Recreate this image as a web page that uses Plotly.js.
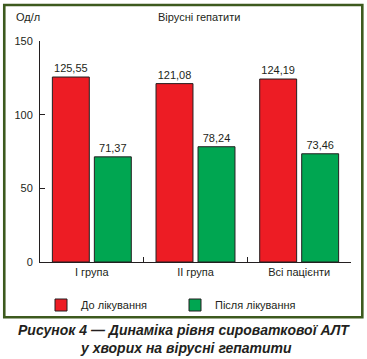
<!DOCTYPE html>
<html>
<head>
<meta charset="utf-8">
<script src="https://cdn.plot.ly/plotly-3.0.1.min.js"></script>
<style>
html,body{margin:0;padding:0;background:#fff;}
#chart{width:367px;height:359px;}
</style>
</head>
<body>
<div id="chart"></div>
<script>
const categories = ["I група", "II група", "Всі пацієнти"];
const seriesNames = ["До лікування", "Після лікування"];
const before = [125.55, 121.08, 124.19];
const after = [71.37, 78.24, 73.46];
const yTicks = [0, 50, 100, 150];
const yUnit = "Од/л";
const chartTitle = "Вірусні гепатити";
const caption1 = "Рисунок 4 — Динаміка рівня сироваткової АЛТ";
const caption2 = "у хворих на вірусні гепатити";

const fmt = v => v.toFixed(2).replace('.', ',');
const FONT = '"Liberation Sans Narrow", "Arial Narrow", "Liberation Sans", Arial, sans-serif';
const TXT = '#231f20';
const FS = 11;

const traces = [
  {type:'bar', name:seriesNames[0], x:categories, y:before, text:before.map(fmt),
   textposition:'outside', cliponaxis:false, textfont:{family:FONT,size:FS,color:TXT},
   marker:{color:'#ed1c24', line:{color:'#231f20', width:1}}},
  {type:'bar', name:seriesNames[1], x:categories, y:after, text:after.map(fmt),
   textposition:'outside', cliponaxis:false, textfont:{family:FONT,size:FS,color:TXT},
   marker:{color:'#00a651', line:{color:'#231f20', width:1}}}
];

const px = x => (x - 40) / 310.7;
const py = y => (262 - y) / 221;

const layout = {
  width:367, height:359,
  margin:{l:40, r:16, t:41, b:97},
  paper_bgcolor:'#fff', plot_bgcolor:'#fff',
  barmode:'group', bargap:0.19, bargroupgap:0.12,
  showlegend:true,
  font:{family:FONT, size:FS, color:TXT},
  xaxis:{type:'category', tickson:'boundaries', ticks:'inside', ticklen:5, tickcolor:'#231f20',
         showline:true, linecolor:'#231f20', linewidth:1, showgrid:false, zeroline:false,
         tickfont:{family:FONT,size:FS,color:TXT}, fixedrange:true},
  yaxis:{range:[0,150], tickvals:yTicks, ticks:'inside', ticklen:5, tickcolor:'#231f20',
         showline:true, linecolor:'#231f20', linewidth:1, showgrid:false, zeroline:false,
         tickfont:{family:FONT,size:FS,color:TXT}, ticklabelstandoff:4, fixedrange:true},
  legend:{orientation:'h', x:px(41), xanchor:'left', y:py(305), yanchor:'middle',
          font:{family:FONT,size:FS,color:TXT}, entrywidth:89, entrywidthmode:'pixels',
          itemwidth:30, bgcolor:'rgba(0,0,0,0)'},
  annotations:[
    {text:yUnit, xref:'paper', yref:'paper', x:px(14), y:py(17), xanchor:'left', yanchor:'middle',
     showarrow:false, font:{family:FONT,size:FS,color:TXT}},
    {text:chartTitle, xref:'paper', yref:'paper', x:px(199), y:py(17), xanchor:'center', yanchor:'middle',
     showarrow:false, font:{family:FONT,size:FS,color:TXT}},
    {text:'<b><i>'+caption1+'</i></b>', xref:'paper', yref:'paper', x:px(184), y:py(330), xanchor:'center', yanchor:'middle',
     showarrow:false, font:{family:'"Liberation Sans", Arial, sans-serif',size:14,color:TXT}},
    {text:'<b><i>'+caption2+'</i></b>', xref:'paper', yref:'paper', x:px(186), y:py(348), xanchor:'center', yanchor:'middle',
     showarrow:false, font:{family:'"Liberation Sans", Arial, sans-serif',size:14,color:TXT}}
  ],
  shapes:[
    {type:'rect', xref:'paper', yref:'paper', x0:px(4.3), x1:px(362), y0:py(5), y1:py(317.3),
     line:{color:'#3d5a1e', width:2.6}, fillcolor:'rgba(0,0,0,0)', layer:'below'}
  ]
};

Plotly.newPlot('chart', traces, layout, {displayModeBar:false, staticPlot:true});
</script>
</body>
</html>
